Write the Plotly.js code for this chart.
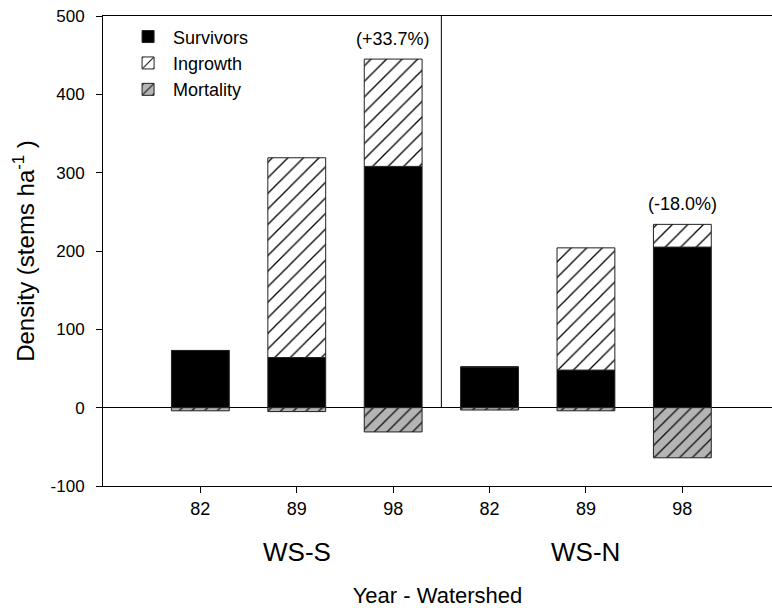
<!DOCTYPE html>
<html>
<head>
<meta charset="utf-8">
<script src="https://cdn.plot.ly/plotly-3.0.1.min.js"></script>
<style>html,body{margin:0;padding:0;background:#fff;}#chart{width:772px;height:608px;}</style>
</head>
<body>
<div id="chart"></div>
<script>
// Data
const yearLabels = ["82", "89", "98", "82", "89", "98"];
const positions = [0, 1, 2, 3, 4, 5];
const survivors = [73, 64, 308, 52, 48, 205];
const ingrowth = [0, 255, 137, 0, 156, 29];
const mortality = [-4, -5, -31, -3, -4, -64];
const watersheds = ["WS-S", "WS-N"];
const watershedCenters = [1, 4];
const changeLabels = ["(+33.7%)", "(-18.0%)"];
const changeIdx = [2, 5];
const yTickVals = [-100, 0, 100, 200, 300, 400, 500];
const yTickText = ["-100", "0", "100", "200", "300", "400", "500"];

const FONT = "Liberation Sans, Arial, sans-serif";

const traces = [
  {
    type: "bar", name: "Survivors", x: positions, y: survivors,
    marker: { color: "#000", line: { color: "#222", width: 1 } }
  },
  {
    type: "bar", name: "Ingrowth", x: positions, y: ingrowth,
    marker: {
      color: "#fff",
      line: { color: "#222", width: 1 },
      pattern: { shape: "/", fgcolor: "#000", bgcolor: "#fff", size: 11, solidity: 0.12 }
    }
  },
  {
    type: "bar", name: "Mortality", x: positions, y: mortality,
    marker: {
      color: "#aaa",
      line: { color: "#222", width: 1 },
      pattern: { shape: "/", fgcolor: "#111", bgcolor: "#b4b4b4", size: 9, solidity: 0.15 }
    }
  }
];

const annotations = [];
changeIdx.forEach((idx, i) => {
  annotations.push({
    x: positions[idx], y: survivors[idx] + ingrowth[idx], xref: "x", yref: "y",
    text: changeLabels[i], showarrow: false, yanchor: "bottom", yshift: 8,
    font: { family: FONT, size: 18, color: "#000" }
  });
});
watersheds.forEach((w, i) => {
  annotations.push({
    x: watershedCenters[i], y: 0, xref: "x", yref: "paper",
    text: w, showarrow: false, yanchor: "middle", yshift: -66,
    font: { family: FONT, size: 26, color: "#000" }
  });
});

const layout = {
  width: 772, height: 608,
  margin: { l: 103, r: 0, t: 16, b: 122 },
  paper_bgcolor: "#fff", plot_bgcolor: "#fff",
  barmode: "relative", bargap: 0.4,
  font: { family: FONT, size: 17, color: "#000" },
  showlegend: true,
  legend: {
    x: 0.03, y: 0.995, xanchor: "left", yanchor: "top",
    bgcolor: "rgba(0,0,0,0)", font: { family: FONT, size: 18 },
    tracegroupgap: 0, itemwidth: 40
  },
  xaxis: {
    range: [-1.01, 5.93],
    tickvals: positions, ticktext: yearLabels,
    ticks: "outside", ticklen: 6, tickcolor: "#000",
    showline: true, linecolor: "#000", linewidth: 1, mirror: true,
    showgrid: false, zeroline: false,
    tickfont: { family: FONT, size: 18 },
    title: { text: "Year - Watershed", font: { family: FONT, size: 22 }, standoff: 70 }
  },
  yaxis: {
    range: [-100, 500], tickvals: yTickVals, ticktext: yTickText,
    ticks: "outside", ticklen: 6, tickcolor: "#000", ticklabelstandoff: 8,
    showline: true, linecolor: "#000", linewidth: 1,
    showgrid: false, zeroline: true, zerolinecolor: "#000", zerolinewidth: 1,
    tickfont: { family: FONT, size: 17 },
    title: { text: "Density (stems ha<sup>-1</sup> )", font: { family: FONT, size: 24 }, standoff: 9 }
  },
  shapes: [
    { type: "line", xref: "x", yref: "y", x0: 2.5, x1: 2.5, y0: 0, y1: 500, line: { color: "#000", width: 1 } }
  ],
  annotations: annotations
};

Plotly.newPlot("chart", traces, layout, { displayModeBar: false, staticPlot: true });
</script>
</body>
</html>
